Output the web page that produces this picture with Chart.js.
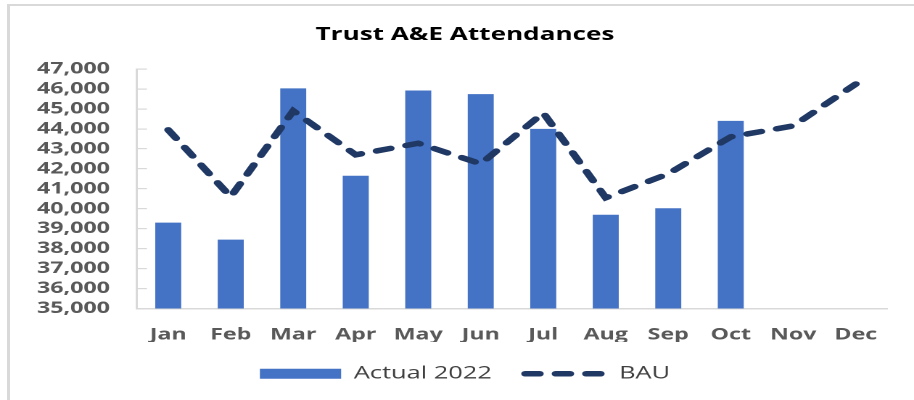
<!DOCTYPE html>
<html lang="en">

<head>
  <meta charset="UTF-8">
  <title>Trust A&amp;E Attendances</title>
  <script src="https://cdn.jsdelivr.net/npm/chart.js"></script>
  <style>
    body {
      margin: 0;
      background: #fff;
    }

    .moldura {
      position: absolute;
      left: 7px;
      top: 4px;
      right: 0;
      bottom: 0;
      border-left: 3px solid #d9d9d9;
      border-top: 2px solid #d9d9d9;
    }

    /* the chart is drawn narrow and widened, so the text comes out broad */
    .grafico {
      position: absolute;
      left: 0;
      top: 0;
      width: 630px;
      height: 400px;
      transform: scaleX(1.4508);
      transform-origin: 0 0;
    }
  </style>
</head>

<body>
  <div class="moldura"></div>
  <div class="grafico">
    <canvas id="graficoAE"></canvas>
  </div>

  <script>
    var meses = ["Jan", "Feb", "Mar", "Apr", "May", "Jun", "Jul", "Aug", "Sep", "Oct", "Nov", "Dec"]
    var actual2022 = [39300, 38450, 46030, 41650, 45920, 45740, 44000, 39700, 40020, 44400, null, null]
    var bau = [43950, 40600, 44900, 42700, 43280, 42250, 44800, 40550, 41750, 43600, 44150, 46250]

    var eixoMin = 35000
    var eixoMax = 47000
    var eixoPasso = 1000

    var corTexto = "#595959"

    // legend: box for the bars, dashed stroke for BAU
    function montarLegenda(chart) {
      var itens = Chart.defaults.plugins.legend.labels.generateLabels(chart)
      itens.forEach(function (item) {
        var ds = chart.data.datasets[item.datasetIndex]
        if (ds.type === "line") {
          item.pointStyle = "line"
          item.lineDash = ds.borderDash
          item.lineCap = "round"
          item.lineWidth = ds.borderWidth
          item.strokeStyle = ds.borderColor
        } else {
          item.pointStyle = "rect"
          item.lineWidth = 0
        }
      })
      return itens
    }

    function carregarGrafico() {
      const ctx = document.getElementById("graficoAE")
      new Chart(ctx, {
        data: {
          labels: meses,
          datasets: [{
            type: "bar",
            label: "Actual 2022",
            data: actual2022,
            backgroundColor: "#4472c4",
            borderWidth: 0,
            barPercentage: 0.416,
            categoryPercentage: 1,
            order: 1
          }, {
            type: "line",
            label: "BAU",
            data: bau,
            borderColor: "#203864",
            borderWidth: 5.5,
            borderDash: [10, 11],
            borderCapStyle: "round",
            pointRadius: 0,
            pointHoverRadius: 0,
            tension: 0,
            fill: false,
            order: 0
          }]
        },
        options: {
          responsive: true,
          maintainAspectRatio: false,
          devicePixelRatio: 2,
          animation: false,
          layout: {
            padding: { top: 0, left: 11, right: 0, bottom: 7.5 }
          },
          scales: {
            x: {
              grid: { display: false, drawTicks: false },
              border: { color: "#d9d9d9", width: 1.5 },
              ticks: {
                color: corTexto,
                padding: 16.6,
                maxRotation: 0,
                autoSkip: false,
                font: { family: "Open Sans", size: 16, weight: "bold" }
              },
              afterFit: function (escala) {
                escala.height = 33.5
              }
            },
            y: {
              min: eixoMin,
              max: eixoMax,
              grid: {
                drawOnChartArea: false,
                drawTicks: true,
                tickLength: -6.9,
                color: "#d9d9d9",
                lineWidth: 1.2
              },
              border: { color: "#d9d9d9", width: 1.5 },
              ticks: {
                stepSize: eixoPasso,
                autoSkip: false,
                color: corTexto,
                padding: 25.5,
                font: { family: "Open Sans", size: 16, weight: "bold" },
                callback: function (valor) {
                  return valor.toLocaleString("en-US")
                }
              },
              afterFit: function (escala) {
                escala.width = 83.4
              }
            },
            // empty strip on the right so the plot stops short of the edge
            margemDireita: {
              type: "linear",
              axis: "y",
              position: "right",
              grid: { display: false, drawTicks: false },
              border: { display: false },
              ticks: { display: false },
              afterFit: function (escala) {
                escala.width = 18.6
              }
            }
          },
          plugins: {
            title: {
              display: true,
              text: "Trust A&E Attendances",
              color: "#000",
              font: { family: "Open Sans", size: 18, weight: "bold" },
              padding: { top: 23.9, bottom: 23.5 }
            },
            legend: {
              position: "bottom",
              labels: {
                usePointStyle: true,
                pointStyleWidth: 56,
                boxHeight: 10,
                padding: 23,
                color: "#404040",
                font: { family: "Open Sans", size: 17.5 },
                generateLabels: montarLegenda,
                sort: function (a, b) {
                  return a.datasetIndex - b.datasetIndex
                }
              }
            },
            tooltip: { enabled: false }
          }
        }
      })
    }

    carregarGrafico()
  </script>
</body>

</html>
